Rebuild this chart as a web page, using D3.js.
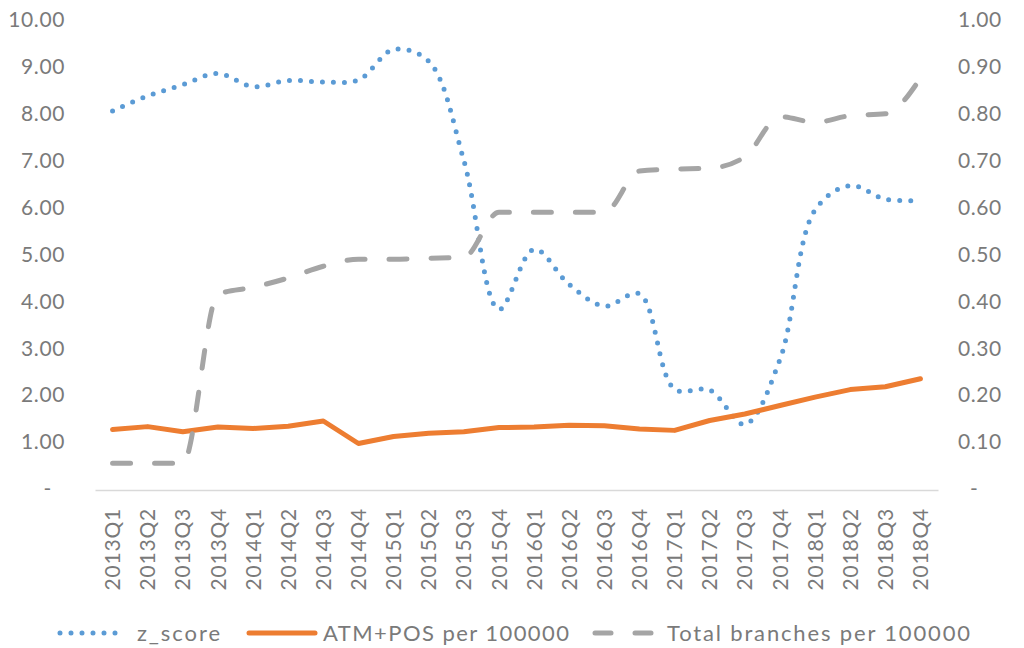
<!DOCTYPE html>
<html>
<head>
<meta charset="utf-8">
<script src="https://cdn.jsdelivr.net/npm/d3@7"></script>
<style>
  html, body { margin: 0; padding: 0; background: #fff; }
  svg { display: block; font-family: Lato, "Open Sans", sans-serif; }
</style>
</head>
<body>
<svg id="chart" width="1024" height="648"></svg>
<script>
const quarters = ["2013Q1","2013Q2","2013Q3","2013Q4","2014Q1","2014Q2","2014Q3","2014Q4",
  "2015Q1","2015Q2","2015Q3","2015Q4","2016Q1","2016Q2","2016Q3","2016Q4",
  "2017Q1","2017Q2","2017Q3","2017Q4","2018Q1","2018Q2","2018Q3","2018Q4"];
const zScore = [8.06, 8.38, 8.62, 8.86, 8.58, 8.71, 8.68, 8.72,
  9.37, 9.12, 7.01, 3.83, 5.11, 4.36, 3.90, 4.16,
  2.13, 2.11, 1.38, 2.76, 5.95, 6.47, 6.18, 6.15];
const atmPos = [1.27, 1.33, 1.22, 1.32, 1.29, 1.34, 1.45, 0.97,
  1.12, 1.19, 1.22, 1.31, 1.32, 1.36, 1.35, 1.28,
  1.25, 1.46, 1.60, 1.78, 1.96, 2.12, 2.18, 2.35];
const branches = [0.055, 0.055, 0.055, 0.415, 0.43, 0.45, 0.475, 0.49,
  0.49, 0.492, 0.494, 0.59, 0.59, 0.59, 0.59, 0.678,
  0.682, 0.684, 0.708, 0.794, 0.782, 0.796, 0.80, 0.876];
const leftTicks = [0,1,2,3,4,5,6,7,8,9,10];
const rightTicks = [0,0.1,0.2,0.3,0.4,0.5,0.6,0.7,0.8,0.9,1.0];
const seriesNames = ["z_score", "ATM+POS per 100000", "Total branches per 100000"];

const svg = d3.select("#chart");
const textColor = "#7a7a7a";
const x = d3.scaleBand().domain(quarters).range([95, 938]);
const yL = d3.scaleLinear().domain([0, 10]).range([489, 20]);
const yR = d3.scaleLinear().domain([0, 1]).range([489, 20]);
const cx = d => x(d) + x.bandwidth() / 2;

// X axis
const xAxis = svg.append("g").attr("transform", "translate(0,490)")
  .call(d3.axisBottom(x).tickSize(0));
xAxis.select(".domain").attr("stroke", "#d9d9d9").attr("stroke-width", 1.5);
xAxis.selectAll("text")
  .attr("transform", "rotate(-90)")
  .attr("x", -18).attr("y", 0).attr("dy", "0.36em")
  .style("text-anchor", "end")
  .attr("fill", textColor).style("font-size", "21px").style("font-family", "Lato, sans-serif")
  .style("letter-spacing", "0.8px");

// Left axis
const fmt = d => d === 0 ? "-" : d3.format(".2f")(d);
const yAxisL = svg.append("g").attr("transform", "translate(68,0)")
  .call(d3.axisLeft(yL).tickValues(leftTicks).tickFormat(fmt).tickSize(0).tickPadding(3));
yAxisL.select(".domain").remove();
yAxisL.selectAll("text").attr("fill", textColor).style("font-size", "21px")
  .style("font-family", "Lato, sans-serif").style("letter-spacing", "0.6px");
yAxisL.selectAll(".tick").filter(d => d === 0).select("text").attr("x", -16);

// Right axis
const yAxisR = svg.append("g").attr("transform", "translate(955,0)")
  .call(d3.axisRight(yR).tickValues(rightTicks).tickFormat(fmt).tickSize(0).tickPadding(3));
yAxisR.select(".domain").remove();
yAxisR.selectAll("text").attr("fill", textColor).style("font-size", "21px")
  .style("font-family", "Lato, sans-serif").style("letter-spacing", "0.6px");
yAxisR.selectAll(".tick").filter(d => d === 0).select("text").attr("x", 15);

// Lines
const smoothL = d3.line().x((d, i) => cx(quarters[i])).y(d => yL(d)).curve(d3.curveCatmullRom.alpha(0.5));
const straightL = d3.line().x((d, i) => cx(quarters[i])).y(d => yL(d));
const smoothR = d3.line().x((d, i) => cx(quarters[i])).y(d => yR(d)).curve(d3.curveMonotoneX);

svg.append("path").datum(zScore).attr("d", smoothL)
  .attr("fill", "none").attr("stroke", "#5b9bd5").attr("stroke-width", 5)
  .attr("stroke-linecap", "round").attr("stroke-dasharray", "0,11");
svg.append("path").datum(atmPos).attr("d", straightL)
  .attr("fill", "none").attr("stroke", "#ed7d31").attr("stroke-width", 5)
  .attr("stroke-linecap", "round").attr("stroke-linejoin", "round");
svg.append("path").datum(branches).attr("d", smoothR)
  .attr("fill", "none").attr("stroke", "#a5a5a5").attr("stroke-width", 5)
  .attr("stroke-linecap", "round").attr("stroke-dasharray", "18,24");

// Legend
const ly = 633;
const lg = svg.append("g");
lg.append("line").attr("x1", 60).attr("x2", 125).attr("y1", ly).attr("y2", ly)
  .attr("stroke", "#5b9bd5").attr("stroke-width", 5).attr("stroke-linecap", "round")
  .attr("stroke-dasharray", "0,11");
lg.append("line").attr("x1", 249).attr("x2", 315).attr("y1", ly).attr("y2", ly)
  .attr("stroke", "#ed7d31").attr("stroke-width", 5).attr("stroke-linecap", "round");
lg.append("line").attr("x1", 595).attr("x2", 651).attr("y1", ly).attr("y2", ly)
  .attr("stroke", "#a5a5a5").attr("stroke-width", 5).attr("stroke-linecap", "round")
  .attr("stroke-dasharray", "16,24");
const legendText = [
  {t: seriesNames[0], x: 137, w: 83},
  {t: seriesNames[1], x: 323, w: 246},
  {t: seriesNames[2], x: 667, w: 303}
];
lg.selectAll("text.leg").data(legendText).enter().append("text")
  .attr("class", "leg")
  .attr("x", d => d.x).attr("y", ly).attr("dy", "0.36em")
  .attr("textLength", d => d.w).attr("lengthAdjust", "spacing")
  .attr("fill", textColor).style("font-size", "22px").style("font-family", "Lato, sans-serif")
  .text(d => d.t);
</script>
</body>
</html>
